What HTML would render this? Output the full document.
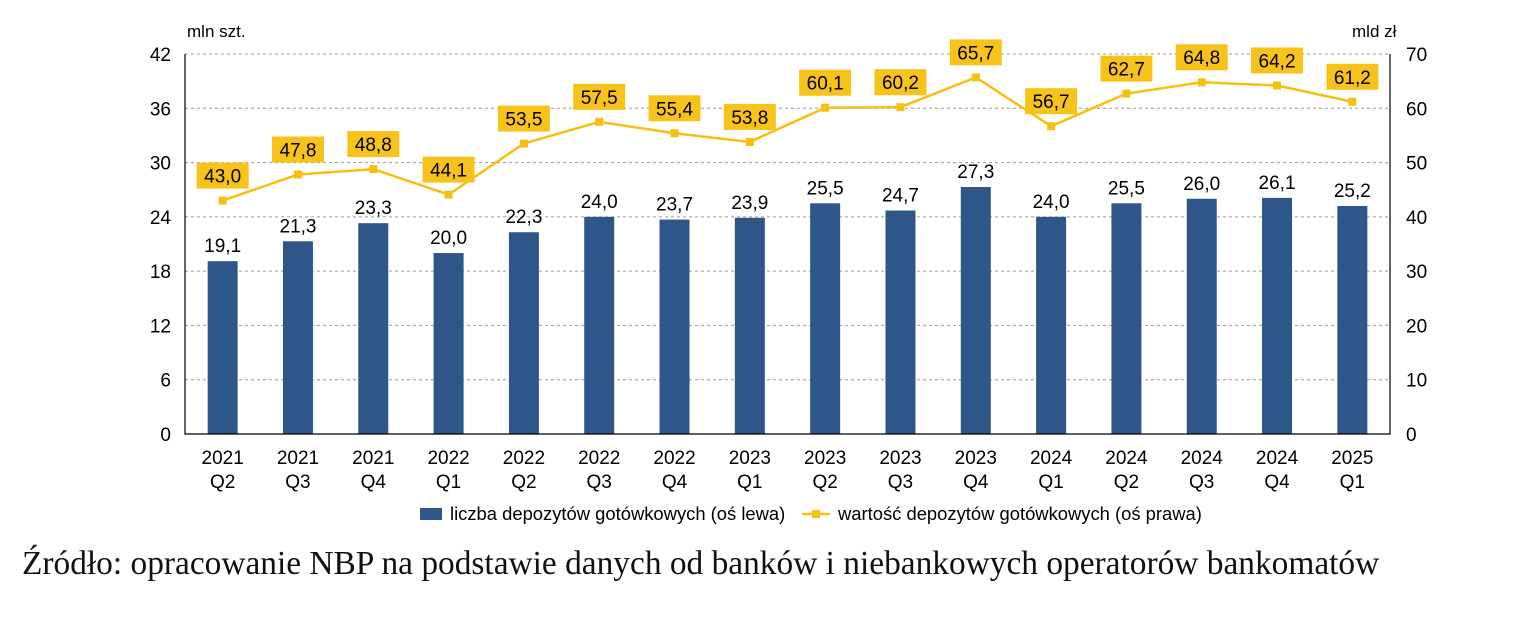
<!DOCTYPE html>
<html><head><meta charset="utf-8"><style>
body{margin:0;background:#fff;width:1538px;height:618px;overflow:hidden;font-family:"Liberation Sans",sans-serif}
svg{position:absolute;left:0;top:0}
#src{position:absolute;left:22px;top:545px;font-family:"Liberation Serif",serif;font-size:33.4px;color:#111;white-space:nowrap}
</style></head><body>
<svg id="chart" width="1538" height="540" viewBox="0 0 1538 540" font-family="Liberation Sans, sans-serif"></svg>
<div id="src">Źródło: opracowanie NBP na podstawie danych od banków i niebankowych operatorów bankomatów</div>
<script>
const years=["2021","2021","2021","2022","2022","2022","2022","2023","2023","2023","2023","2024","2024","2024","2024","2025"];
const quarters=["Q2","Q3","Q4","Q1","Q2","Q3","Q4","Q1","Q2","Q3","Q4","Q1","Q2","Q3","Q4","Q1"];
const counts=[19.1,21.3,23.3,20.0,22.3,24.0,23.7,23.9,25.5,24.7,27.3,24.0,25.5,26.0,26.1,25.2];
const values=[43.0,47.8,48.8,44.1,53.5,57.5,55.4,53.8,60.1,60.2,65.7,56.7,62.7,64.8,64.2,61.2];
const leftTicks=[0,6,12,18,24,30,36,42];
const rightTicks=[0,10,20,30,40,50,60,70];
const X0=185,X1=1390,Y0=434,Y1=54;
const n=years.length,step=(X1-X0)/n;
const xc=i=>X0+step*(i+0.5);
const yl=v=>Y0-(v/42)*(Y0-Y1);
const yr=v=>Y0-(v/70)*(Y0-Y1);
const svg=document.getElementById('chart');
const NS='http://www.w3.org/2000/svg';
function mk(t,a,p){const e=document.createElementNS(NS,t);for(const k in a)e.setAttribute(k,a[k]);(p||svg).appendChild(e);return e;}
const fmt=v=>v.toFixed(1).replace('.',',');
const FS=19;
leftTicks.forEach(v=>{
 if(v>0){const g=mk('line',{x1:X0,x2:X1,y1:yl(v),y2:yl(v),stroke:'#999','stroke-dasharray':'3,3','stroke-width':1});
 
 }
 const t=mk('text',{x:X0-14,y:yl(v)+7,'text-anchor':'end','font-size':FS});t.textContent=v;
 
 
});
rightTicks.forEach(v=>{
 const t=mk('text',{x:X1+16,y:yr(v)+7,'font-size':FS});t.textContent=v;
 
 
});
counts.forEach((v,i)=>{
 const b=mk('rect',{x:xc(i)-15,y:yl(v),width:30,height:Y0-yl(v),fill:'#2f5689'});
 
 
 const t=mk('text',{x:xc(i),y:yl(v)-9,'text-anchor':'middle','font-size':FS});t.textContent=fmt(v);
 
 
 const a=mk('text',{x:xc(i),y:464,'text-anchor':'middle','font-size':FS});a.textContent=years[i];
 
 
 const q=mk('text',{x:xc(i),y:488,'text-anchor':'middle','font-size':FS});q.textContent=quarters[i];
 
 
});
const ax=mk('path',{d:`M${X0},${Y1}V${Y0}H${X1}V${Y1}`,fill:'none',stroke:'#000','stroke-width':1.2});


const ln=mk('polyline',{points:values.map((v,i)=>xc(i)+','+yr(v)).join(' '),fill:'none',stroke:'#f5c010','stroke-width':2.5});


values.forEach((v,i)=>{
 const m=mk('rect',{x:xc(i)-4,y:yr(v)-4,width:8,height:8,fill:'#f5c010'});
 
 
 const b=mk('rect',{x:xc(i)-26,y:yr(v)-38,width:52,height:26,fill:'#f7c21a'});
 
 
 const t=mk('text',{x:xc(i),y:yr(v)-18,'text-anchor':'middle','font-size':FS});t.textContent=fmt(v);
 
 
});
const lt=mk('text',{x:187,y:37,'font-size':17});lt.textContent='mln szt.';


const rt=mk('text',{x:1352,y:37,'font-size':17});rt.textContent='mld zł';


const l1=mk('rect',{x:420,y:508,width:22,height:12,fill:'#2f5689'});


const l1t=mk('text',{x:450,y:520,'font-size':18.4});l1t.textContent='liczba depozytów gotówkowych (oś lewa)';


const l2=mk('line',{x1:802,x2:830,y1:514,y2:514,stroke:'#f5c010','stroke-width':2.5});


const l2m=mk('rect',{x:812,y:510,width:8,height:8,fill:'#f5c010'});


const l2t=mk('text',{x:838,y:520,'font-size':18.4});l2t.textContent='wartość depozytów gotówkowych (oś prawa)';


</script>
</body></html>
